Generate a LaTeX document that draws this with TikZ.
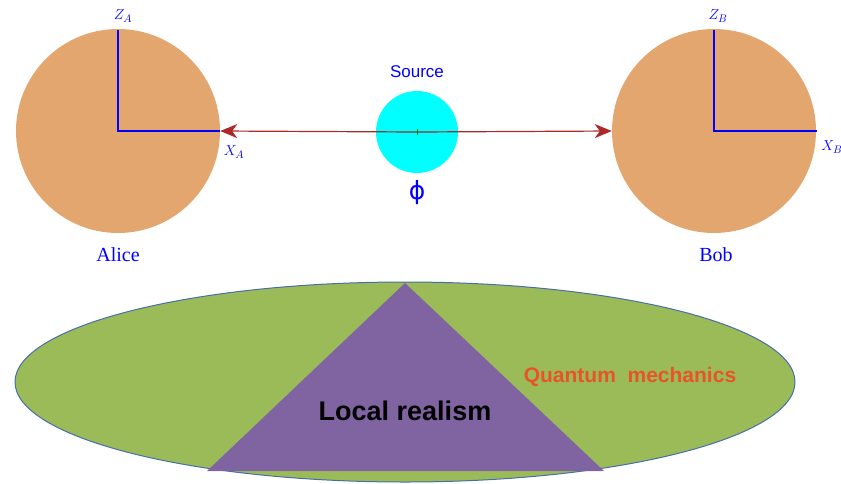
\documentclass[tikz,border=0pt]{standalone}
\usepackage{fontspec}
\setmainfont{Liberation Serif}
\setsansfont{Liberation Sans}
\newfontfamily\phifont{DejaVu Sans}
\usetikzlibrary{arrows.meta,positioning,shapes.geometric}

\definecolor{partyorange}{RGB}{226,166,110}
\definecolor{srccyan}{RGB}{0,255,255}
\definecolor{beamred}{RGB}{170,42,42}
\definecolor{qmgreen}{RGB}{155,187,89}
\definecolor{qmborder}{RGB}{70,110,170}
\definecolor{lrpurple}{RGB}{128,100,162}
\definecolor{qmtext}{RGB}{232,84,40}

\begin{document}
\begin{tikzpicture}[
  party/.style    = {circle, fill=partyorange, minimum size=204pt, inner sep=0pt},
  source/.style   = {circle, fill=srccyan, minimum size=82pt, inner sep=0pt},
  axis/.style     = {draw=blue, line width=1.2pt},
  axislbl/.style  = {text=blue, font=\fontsize{15}{18}\selectfont, inner sep=1pt},
  partylbl/.style = {text=blue, font=\fontsize{20}{24}\selectfont},
  beam/.style     = {-{Stealth[length=17pt,width=14pt,inset=5pt]}, draw=beamred, line width=1.2pt},
  x=1pt, y=-1pt,
]
  \useasboundingbox (0,0) rectangle (841,483);

  % upper part: source and the two parties
  \node[party]  (alice) at (118,131) {};
  \node[party]  (bob)   at (714,131) {};
  \node[source] (src)   at (417,132) {};

  \coordinate (za) at (118,30);
  \coordinate (xa) at (220,131);
  \coordinate (zb) at (714,30);
  \coordinate (xb) at (817,131);
  \draw[axis] (za) -- (alice.center) -- (xa);
  \draw[axis] (zb) -- (bob.center) -- (xb);
  \node[axislbl] (zalbl) at (123,16)  {$Z_A$};
  \node[axislbl] (xalbl) at (234,152) {$X_A$};
  \node[axislbl] (zblbl) at (718,16)  {$Z_B$};
  \node[axislbl] (xblbl) at (832,147) {$X_B$};

  \draw[beam] (src.center) -- (alice.east);
  \draw[beam] (src.center) -- (bob.west);
  \draw[draw=green!50!black, line width=0.8pt] (417,129) -- (417,135);

  \node[text=blue, font=\sffamily\fontsize{17}{20}\selectfont] (srclbl) at (417,72) {Source};
  \node[text=blue, font=\phifont\fontsize{25}{30}\selectfont] (phi) at (417,193) {ϕ};
  \node[partylbl] (alicelbl) at (118,255) {Alice};
  \node[partylbl] (boblbl)   at (716,255) {Bob};

  % lower part: local realism inside quantum mechanics
  \node[ellipse, fill=qmgreen, draw=qmborder, line width=1pt,
        minimum width=780pt, minimum height=200pt, inner sep=0pt] (qm) at (405,382) {};
  \coordinate (apex)  at (405,283);
  \coordinate (baseL) at (207,471);
  \coordinate (baseR) at (604,471);
  \fill[lrpurple] (apex) -- (baseR) -- (baseL) -- cycle;
  \node[font=\sffamily\bfseries\fontsize{27}{30}\selectfont] (lr) at (405,411) {Local realism};
  \node[text=qmtext, font=\sffamily\bfseries\fontsize{21}{24}\selectfont] (qmlbl) at (630,377) {Quantum\ \ mechanics};
\end{tikzpicture}
\end{document}
